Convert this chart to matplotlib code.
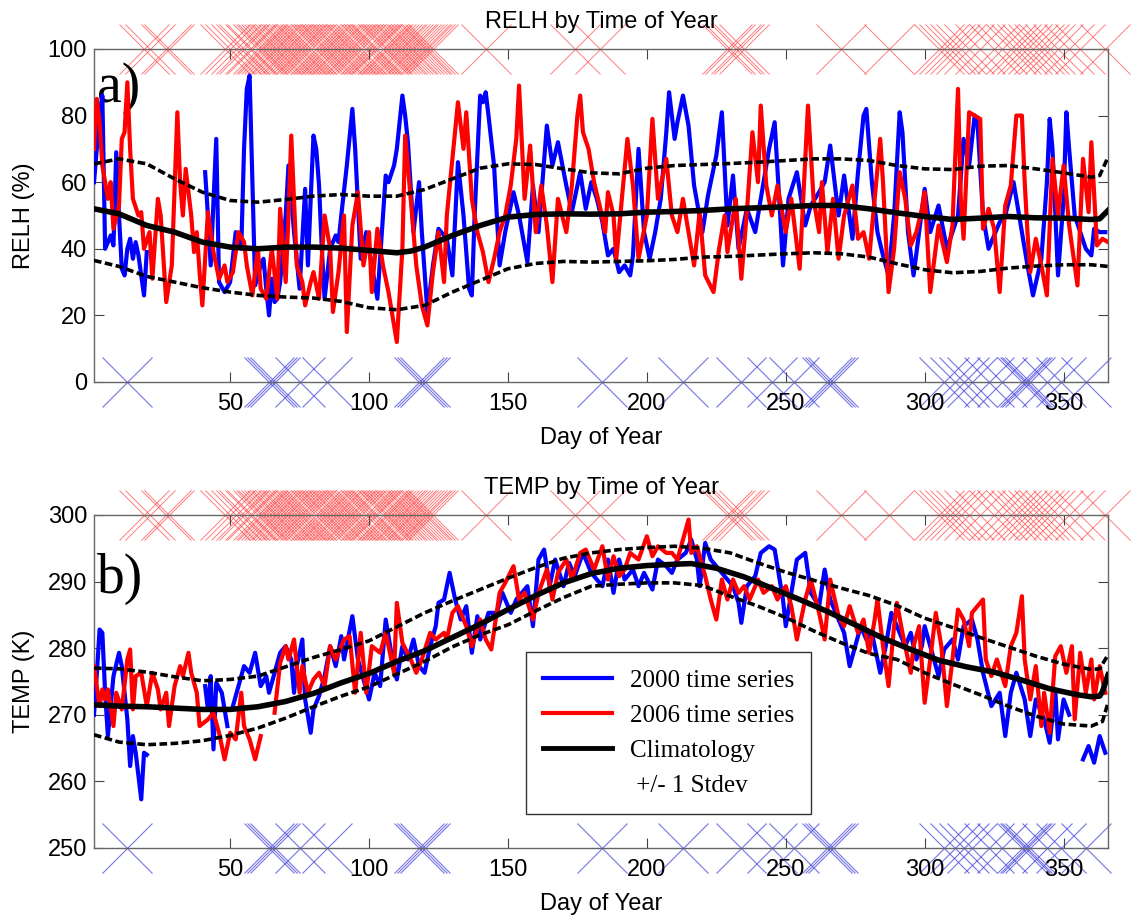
import numpy as np
import matplotlib
matplotlib.use("Agg")
import matplotlib.pyplot as plt
from matplotlib.lines import Line2D

nan = np.nan

# ---- data: (day of year, value) ----
relh_2000 = [(1, 60), (3, 80), (4, 86), (5, 40), (6, 42), (7, 44), (8, 41), (9, 69), (10, 50), (11, 34),
             (12, 32), (13, 40), (14, 43), (15, 37), (16, 42), (17, 38), (19, 26), (20, 39), (21, nan), (40, nan),
             (41, 63), (42, 50), (43, 35), (45, 73), (46, 30), (48, 27), (50, 30), (52, 45), (54, 40), (55, 70),
             (56, 88), (57, 92), (58, 60), (59, 29), (61, 35), (62, 37), (63, 28), (64, 20), (65, 31), (66, 24),
             (67, 25), (68, 30), (70, 50), (71, 65), (72, 55), (73, 45), (75, 28), (77, 58), (78, 35), (79, 55),
             (80, 74), (81, 70), (82, 59), (83, 40), (84, 25), (86, 40), (88, 44), (89, 42), (90, 50), (92, 65),
             (94, 82), (95, 70), (97, 37), (99, 45), (101, 35), (103, 25), (105, 50), (106, 62), (107, 60), (109, 65),
             (110, 70), (112, 86), (113, 80), (114, 72), (116, 45), (118, 60), (119, 45), (121, 21), (123, 35), (125, 46),
             (127, 44), (128, 43), (130, 32), (132, 66), (134, 50), (136, 28), (137, 26), (138, 50), (140, 86), (141, 84),
             (142, 87), (143, 80), (145, 65), (147, 35), (149, 45), (152, 57), (154, 50), (157, 36), (159, 59), (161, 45),
             (164, 77), (166, 65), (168, 72), (171, 59), (173, 51), (176, 63), (178, 52), (180, 60), (182, 55), (184, 48),
             (186, 38), (188, 40), (190, 33), (192, 35), (194, 32), (195, 38), (197, 70), (199, 45), (201, 37), (203, 45),
             (205, 55), (207, 75), (208, 87), (210, 73), (211, 78), (213, 86), (215, 77), (217, 59), (220, 45), (222, 56),
             (225, 68), (227, 81), (229, 47), (231, 62), (233, 40), (236, 52), (239, 45), (242, 60), (244, 70), (246, 78),
             (248, 50), (249, 35), (251, 55), (254, 63), (257, 47), (259, 53), (262, 57), (264, 60), (266, 71), (269, 50),
             (271, 62), (274, 43), (276, 63), (278, 80), (279, 82), (281, 60), (283, 45), (285, 38), (287, 32), (289, 50),
             (291, 81), (292, 75), (294, 45), (296, 32), (298, 45), (300, 58), (302, 45), (305, 53), (308, 40), (310, 45),
             (312, 50), (314, 73), (316, 65), (318, 80), (319, 78), (321, 50), (323, 40), (325, 44), (327, 48), (329, 50),
             (332, 60), (335, 45), (337, 35), (339, 26), (342, 37), (344, 60), (345, 79), (346, 70), (348, 32), (350, 55),
             (351, 81), (352, 70), (354, 50), (356, 45), (358, 40), (360, 38), (361, 46), (363, 45), (365, 45)]

relh_2006 = [(1, 70), (2, 85), (3, 78), (4, 65), (6, 55), (7, 60), (8, 46), (10, 53), (11, 73), (12, 75),
             (13, 90), (14, 70), (15, 55), (17, 50), (18, 51), (19, 40), (21, 45), (22, 31), (24, 55), (25, 50),
             (27, 24), (29, 35), (31, 81), (32, 60), (33, 50), (34, 64), (36, 50), (37, 39), (38, 45), (39, 33),
             (40, 23), (42, 51), (44, 39), (46, 31), (48, 35), (49, 30), (51, 33), (53, 45), (55, 42), (56, 35),
             (58, 26), (60, 40), (61, 28), (63, 25), (65, 40), (67, 25), (68, 52), (70, 30), (71, 50), (72, 74),
             (74, 35), (76, 30), (77, 23), (79, 30), (80, 33), (82, 25), (84, 50), (86, 40), (87, 21), (89, 33),
             (91, 50), (92, 15), (94, 47), (96, 57), (98, 35), (100, 45), (101, 27), (103, 46), (105, 35), (107, 27),
             (110, 12), (112, 40), (113, 74), (115, 55), (117, 35), (119, 23), (121, 17), (123, 33), (125, 45), (127, 30),
             (128, 50), (130, 67), (132, 84), (134, 70), (135, 81), (137, 55), (139, 45), (141, 39), (143, 30), (145, 37),
             (147, 45), (149, 50), (151, 59), (153, 73), (154, 89), (156, 55), (158, 71), (160, 45), (162, 59), (164, 47),
             (166, 30), (168, 55), (171, 45), (173, 59), (175, 80), (176, 86), (177, 75), (179, 70), (181, 60), (183, 53),
             (185, 45), (186, 57), (188, 50), (189, 37), (191, 55), (193, 73), (195, 59), (197, 37), (200, 50), (202, 79),
             (204, 55), (207, 67), (209, 50), (211, 45), (213, 55), (215, 45), (217, 35), (219, 51), (221, 32), (224, 27),
             (226, 40), (228, 50), (229, 39), (232, 55), (234, 31), (236, 51), (238, 75), (240, 60), (241, 83), (243, 59),
             (245, 50), (247, 59), (250, 45), (252, 55), (255, 34), (258, 83), (260, 55), (262, 45), (263, 60), (265, 39),
             (267, 55), (269, 37), (271, 50), (274, 59), (276, 43), (278, 45), (280, 37), (282, 55), (284, 73), (285, 60),
             (287, 27), (289, 40), (291, 63), (293, 55), (295, 41), (297, 45), (299, 52), (300, 57), (302, 27), (305, 47),
             (308, 36), (310, 47), (312, 88), (313, 55), (314, 43), (316, 81), (318, 80), (320, 79), (321, 46), (323, 52),
             (325, 46), (327, 27), (329, 53), (331, 59), (333, 80), (335, 80), (336, 60), (337, 45), (338, 33), (340, 43),
             (342, 35), (344, 26), (346, 67), (348, 50), (350, 65), (352, 47), (355, 29), (357, 67), (359, 51), (360, 72),
             (362, 41), (364, 43), (366, 42)]

relh_clim = [(1, 52), (10, 50.5), (20, 47), (30, 45), (40, 42), (50, 40.5), (60, 40), (70, 40.5), (80, 40.5),
             (90, 40.2), (100, 39.5), (110, 38.8), (115, 39.3), (120, 40.5), (130, 44), (140, 47), (150, 49.5),
             (160, 50.3), (170, 50.5), (180, 50.4), (190, 50.5), (200, 51), (210, 51.2), (220, 51.5), (230, 52),
             (240, 52.3), (250, 52.6), (260, 53), (270, 53), (280, 52), (290, 50.8), (300, 49.7), (310, 48.8),
             (320, 49.2), (330, 49.7), (340, 49.3), (350, 49.2), (360, 48.8), (363, 49), (366, 51.5)]
relh_upper = [(1, 65.5), (10, 67), (20, 65.5), (30, 61), (40, 57), (50, 54.5), (60, 54), (70, 54.8), (80, 55.8),
              (90, 56.3), (100, 55.8), (110, 55.8), (120, 57.8), (130, 61), (140, 64.2), (150, 65.5), (160, 65.3),
              (170, 64), (180, 62.8), (190, 62.5), (200, 64.2), (210, 65), (220, 65.3), (230, 65.6), (240, 66),
              (250, 66.5), (260, 67), (270, 67), (280, 66.5), (290, 65), (300, 64), (310, 63.8), (320, 64.8),
              (330, 65), (340, 64), (350, 62.8), (360, 61.5), (363, 62), (366, 67.5)]
relh_lower = [(1, 36.5), (10, 34.7), (20, 31.7), (30, 30), (40, 28.3), (50, 27), (60, 26), (70, 25.5), (80, 25.2),
              (90, 24.2), (100, 22.3), (110, 21.7), (120, 23), (130, 27), (140, 30.5), (150, 34), (160, 35.6),
              (170, 36.2), (180, 36), (190, 36.2), (200, 36.4), (210, 36.8), (220, 37.5), (230, 37.7), (240, 38.1),
              (250, 38.5), (260, 38.8), (270, 38.5), (280, 37.5), (290, 35.5), (300, 33.7), (310, 32.8), (320, 33.2),
              (330, 34.2), (340, 34.8), (350, 35.2), (360, 35.2), (366, 34.7)]

temp_2000 = [(1, 270), (2, 276), (3, 282.8), (4, 282.3), (5, 273.3), (6, 266.8), (8, 275.8), (10, 279.3), (11, 277.3),
             (13, 269.3), (14, 262.3), (15, 266.8), (16, 264.3), (18, 257.3), (19, 264.3), (20, 264), (21, nan), (40, nan),
             (41, 274.3), (42, 270.8), (43, 275.8), (44, 264.8), (45, 274.8), (47, 273.3), (49, 268.3), (50, nan),
             (51, 271.3), (53, 274.3), (55, 277.3), (57, 276.3), (59, 279.3), (61, 274.3), (63, 275.8), (64, 273.3),
             (66, 276.3), (68, 279.3), (70, 280.3), (72, 278.3), (73, 273.3), (74, 277.3), (76, 281.3), (77, 272.3),
             (79, 267.3), (80, 270.8), (82, 272.8), (84, 275.8), (86, 280.3), (88, 277.3), (90, 281.8), (91, 278.3),
             (94, 284.8), (96, 278.3), (98, 275.3), (100, 272.3), (102, 276.3), (104, 274.3), (106, 284.3), (108, 279.3),
             (110, 275.3), (112, 280.3), (114, 278.3), (116, 281.3), (118, 277.3), (120, 276.3), (122, 280.3),
             (124, 283.3), (125, 286.8), (127, 287.3), (129, 291.3), (131, 287.3), (133, 284.3), (135, 286.3),
             (137, 279.3), (139, 284.8), (140, 281.3), (143, 285.3), (146, 285.3), (148, 288.3), (151, 285.3),
             (153, 287.3), (157, 289.3), (159, 283.3), (161, 293.3), (163, 294.8), (165, 289.3), (167, 293.3),
             (170, 289.3), (172, 292.8), (174, 290.8), (177, 294.3), (180, 291.3), (184, 289.3), (186, 293.3),
             (188, 288.3), (190, 293.3), (192, 290.3), (195, 291.8), (197, 289.3), (199, 291.3), (202, 288.8),
             (204, 293.3), (207, 292.3), (209, 291.3), (211, 293.3), (214, 294.3), (216, 296.3), (218, 293.3),
             (219, 289.3), (221, 295.8), (223, 293.3), (226, 291.8), (228, 290.8), (231, 289.3), (233, 286.8),
             (234, 283.8), (236, 289.3), (239, 290.8), (241, 294.3), (244, 295.3), (246, 294.8), (249, 287.3),
             (250, 283.3), (252, 288.3), (254, 293.3), (257, 294.3), (259, 288.3), (262, 286.3), (264, 291.8),
             (266, 287.3), (269, 284.3), (271, 282.3), (273, 277.3), (275, 280.3), (277, 283.3), (279, 281.3),
             (281, 282.3), (283, 278.3), (284, 276.3), (286, 280.3), (288, 285.3), (290, 283.3), (293, 280.3),
             (295, 282.3), (297, 278.3), (299, 280.3), (300, 283.3), (302, 280.3), (305, 275.8), (307, 279.8),
             (310, 281.3), (312, 278.3), (314, 283.3), (317, 284.3), (319, 281.3), (321, 276.3), (324, 271.3),
             (327, 273.3), (329, 266.8), (331, 273.3), (333, 276.3), (336, 272.3), (338, 266.8), (340, 272.3),
             (343, 269.3), (345, 265.8), (347, 273.8), (348, 266.3), (350, 272.3), (352, 270), (353, nan),
             (357, 263.3), (359, 265.3), (361, 262.8), (363, 266.8), (365, 264.3)]

temp_2006 = [(1, 277.3), (3, 271.3), (4, 273.8), (5, 272.3), (6, 273.8), (8, 268.3), (9, 273.3), (11, 270.8),
             (13, 278.3), (14, 279.8), (15, 270.8), (16, 275.8), (18, 276.3), (20, 271.3), (22, 276.3), (24, 273.8),
             (25, 270.8), (27, 273.3), (28, 268.3), (30, 274.3), (32, 277.3), (33, 275.8), (35, 279.3), (36, 276.3),
             (38, 273.3), (39, 268.3), (42, 269.3), (44, 270.3), (46, 267.3), (48, 263.3), (50, 267.3), (52, 266.3),
             (54, 273.3), (55, 268.3), (57, 266.3), (59, 263.3), (61, 266.8), (62, nan), (65, nan), (66, 270.3),
             (68, 277.8), (70, 280.3), (71, 278.3), (73, 281.3), (75, 273.3), (76, 277.3), (78, 273.3), (80, 275.3),
             (82, 276.3), (84, 274.3), (86, 280.3), (88, 278.3), (91, 281.3), (93, 281.8), (95, 273.3), (97, 282.3),
             (99, 273.3), (101, 280.3), (104, 279.3), (106, 282.3), (109, 276.3), (110, 286.8), (112, 280.8),
             (115, 278.3), (117, 276.3), (119, 278.3), (122, 282.3), (124, 281.3), (127, 282.3), (128, 281.3),
             (130, 285.3), (132, 286.3), (135, 283.3), (137, 280.3), (140, 284.3), (142, 281.3), (144, 279.8),
             (147, 288.3), (149, 289.8), (152, 292.3), (154, 287.3), (156, 288.3), (159, 284.3), (161, 288.3),
             (164, 291.8), (166, 287.3), (168, 291.3), (171, 293.3), (173, 290.3), (176, 294.3), (178, 294.8),
             (181, 291.8), (184, 295.3), (186, 290.3), (188, 293.8), (190, 290.8), (192, 291.8), (194, 294.3),
             (197, 293.3), (200, 296.8), (202, 293.8), (204, 295.3), (207, 294.3), (209, 294.3), (211, 293.3),
             (213, 296.3), (215, 299.3), (216, 294.3), (218, 295.3), (221, 290.8), (223, 287.3), (225, 284.3),
             (227, 290.3), (229, 287.3), (231, 290.3), (233, 288.3), (235, 289.3), (237, 287.3), (240, 290.3),
             (242, 288.3), (245, 289.3), (247, 287.3), (250, 289.3), (252, 286.3), (254, 281.3), (257, 287.3),
             (259, 290.3), (262, 285.3), (264, 281.3), (266, 290.3), (269, 284.8), (271, 283.3), (273, 286.3),
             (276, 282.3), (278, 284.3), (280, 279.3), (282, 284.3), (283, 287.3), (285, 280.3), (287, 274.3),
             (289, 283.3), (290, 286.8), (292, 282.3), (295, 276.3), (296, 280.3), (298, 283.3), (300, 271.8),
             (302, 278.3), (304, 285.3), (306, 280.3), (308, 271.3), (310, 278.3), (312, 285.8), (314, 284.3),
             (316, 280.3), (317, 285.3), (319, 286.3), (321, 287.3), (322, 278.3), (324, 275.8), (326, 278.3),
             (329, 274.3), (331, 280.3), (333, 282.3), (335, 287.8), (336, 278.3), (338, 272.3), (340, 277.3),
             (342, 268.3), (343, 273.3), (345, 267.3), (347, 278.8), (349, 280.3), (351, 276.3), (353, 280.3),
             (354, 269.3), (356, 279.3), (358, 273.3), (360, 278.3), (361, 272.3), (363, 277.3), (365, 273.3)]

temp_clim = [(1, 271.5), (10, 271.3), (20, 271.2), (30, 271), (40, 270.8), (50, 270.8), (60, 271.2), (70, 272),
             (80, 273.2), (90, 274.8), (100, 276.2), (110, 278), (120, 279.6), (130, 281.6), (140, 283.6),
             (150, 285.8), (160, 287.9), (170, 289.8), (180, 291.2), (190, 292), (200, 292.4), (210, 292.6),
             (216, 292.7), (225, 292), (235, 290.7), (245, 289), (255, 287.3), (265, 285.5), (275, 283.5),
             (285, 281.5), (295, 279.8), (305, 278.2), (315, 277.2), (325, 276.4), (335, 275.2), (345, 273.9),
             (355, 273), (360, 272.7), (363, 272.8), (364, 273.5), (366, 276)]
temp_upper = [(1, 277), (10, 276.9), (20, 276.4), (30, 275.7), (40, 275.1), (50, 275.3), (60, 275.8), (70, 277.2),
              (80, 278.6), (90, 279.8), (100, 281.1), (110, 283.2), (120, 285.3), (130, 287.1), (140, 288.8),
              (150, 290.5), (160, 292.1), (170, 293.5), (180, 294.3), (190, 294.8), (200, 295.1), (210, 295.3),
              (220, 295), (230, 294.3), (240, 292.8), (250, 291.4), (260, 290.2), (270, 289), (280, 287.9),
              (290, 286.4), (300, 284.5), (310, 283.1), (320, 281.6), (330, 280.2), (340, 278.8), (350, 277.6),
              (360, 276.8), (363, 276.9), (366, 279)]
temp_lower = [(1, 267), (10, 265.9), (20, 265.5), (30, 265.7), (40, 266.1), (50, 266.9), (60, 268), (70, 269.5),
              (80, 271.2), (90, 272.8), (100, 274.2), (110, 276.1), (120, 278), (130, 280.2), (140, 282), (150, 283.5),
              (160, 285.6), (170, 287.6), (180, 289.3), (190, 289.6), (200, 289.8), (210, 289.8), (220, 289.4),
              (230, 287.8), (240, 286.3), (250, 284.6), (260, 282.6), (270, 280.8), (280, 279.2), (290, 278.3),
              (300, 276.3), (310, 274.6), (320, 273), (330, 271.3), (340, 269.8), (350, 268.6), (360, 268.3),
              (364, 269), (366, 271.8)]

# days flagged with crosses along the top (red) and bottom (blue) of both panels
red_days = [19, 21, 27, 28, 48, 50, 52, 54, 55, 57, 58, 60, 61, 62, 63, 64, 65, 66, 67, 68, 69, 70, 71, 72,
            73, 74, 75, 76, 77, 78, 79, 81, 82, 83, 84, 85, 86, 87, 88, 89, 90, 91, 92, 93, 94, 95, 96, 97,
            99, 100, 101, 102, 103, 105, 106, 107, 108, 109, 110, 111, 112, 113, 114, 115, 116, 117, 118,
            119, 120, 121, 122, 123, 142, 174, 183, 229, 230, 232, 233, 235, 270, 287, 305, 307, 309, 311,
            313, 316, 320, 325, 328, 331, 333, 335, 337, 339, 341, 343, 345, 348, 352, 356, 365]
blue_days = [13, 64, 65, 66, 75, 85, 118, 119, 120, 184, 213, 234, 245, 253, 265, 266, 267, 307, 311, 314,
             317, 323, 328, 335, 336, 337, 338, 344, 349, 358]

legend_labels = ["2000 time series", "2006 time series", "Climatology", " +/- 1 Stdev"]

plt.rcParams["font.family"] = ["Liberation Sans", "DejaVu Sans"]
plt.rcParams["lines.scale_dashes"] = False

fig = plt.figure(figsize=(11.34, 9.24), dpi=100)
ax1 = fig.add_axes([0.0829, 0.5866, 0.8942, 0.3604])
ax2 = fig.add_axes([0.0829, 0.0823, 0.8942, 0.3604])


def xy(pairs):
    a = np.array(pairs, dtype=float)
    return a[:, 0], a[:, 1]


def draw_panel(ax, s2000, s2006, clim, upper, lower, ylim, yticks, ylabel, title, tag, tag_y):
    lo, hi = ylim
    ax.plot(red_days, [hi] * len(red_days), "x", ms=36, mew=0.7, color="#ff5050", alpha=0.75,
            clip_on=False, zorder=1)
    ax.plot(blue_days, [lo] * len(blue_days), "x", ms=36, mew=0.8, color="#4848dd", alpha=0.75,
            clip_on=False, zorder=1)
    ax.text(0.003, tag_y, tag, transform=ax.transAxes, family="Liberation Serif", fontsize=40,
            va="baseline", ha="left", zorder=2)
    ax.plot(*xy(s2000), color="blue", lw=3.0, zorder=3)
    ax.plot(*xy(s2006), color="red", lw=3.0, zorder=4)
    ax.plot(*xy(clim), color="black", lw=4.0, zorder=5)
    ax.plot(*xy(upper), color="black", lw=2.6, dashes=(5.5, 2.5), zorder=5)
    ax.plot(*xy(lower), color="black", lw=2.6, dashes=(5.5, 2.5), zorder=5)

    ax.set_xlim(1, 366)
    ax.set_ylim(lo, hi)
    ax.set_xticks([50, 100, 150, 200, 250, 300, 350])
    ax.set_yticks(yticks)
    ax.tick_params(direction="in", length=7, width=0.8, top=True, right=True, labelsize=17, colors="#444444",
                   labelcolor="black")
    ax.tick_params(axis="x", pad=8)
    ax.tick_params(axis="y", pad=5)
    for sp in ax.spines.values():
        sp.set_color("#666666")
        sp.set_linewidth(1.0)
    ax.set_title(title, fontsize=17, pad=15)
    ax.set_xlabel("Day of Year", fontsize=17)
    ax.set_ylabel(ylabel, fontsize=17)
    ax.xaxis.set_label_coords(0.5, -0.135)
    ax.yaxis.set_label_coords(-0.058, 0.5)


draw_panel(ax1, relh_2000, relh_2006, relh_clim, relh_upper, relh_lower, (0, 100),
           [0, 20, 40, 60, 80, 100], "RELH (%)", "RELH by Time of Year", "a)", 0.84)
draw_panel(ax2, temp_2000, temp_2006, temp_clim, temp_upper, temp_lower, (250, 300),
           [250, 260, 270, 280, 290, 300], "TEMP (K)", "TEMP by Time of Year", "b)", 0.766)

handles = [Line2D([], [], color="blue", lw=3),
           Line2D([], [], color="red", lw=3),
           Line2D([], [], color="black", lw=3.5),
           Line2D([], [], color="none", lw=0)]
leg = ax2.legend(handles, legend_labels, loc="upper left", bbox_to_anchor=(0.426, 0.589),
                 borderaxespad=0, frameon=True, fancybox=False, framealpha=1, edgecolor="#333333",
                 prop={"family": "Liberation Serif", "size": 18}, handlelength=2.75, handletextpad=0.7,
                 borderpad=0.7, labelspacing=0.5)
leg.get_frame().set_linewidth(1.0)
leg.set_zorder(10)

fig.savefig("out.png", dpi=100, facecolor="white")
